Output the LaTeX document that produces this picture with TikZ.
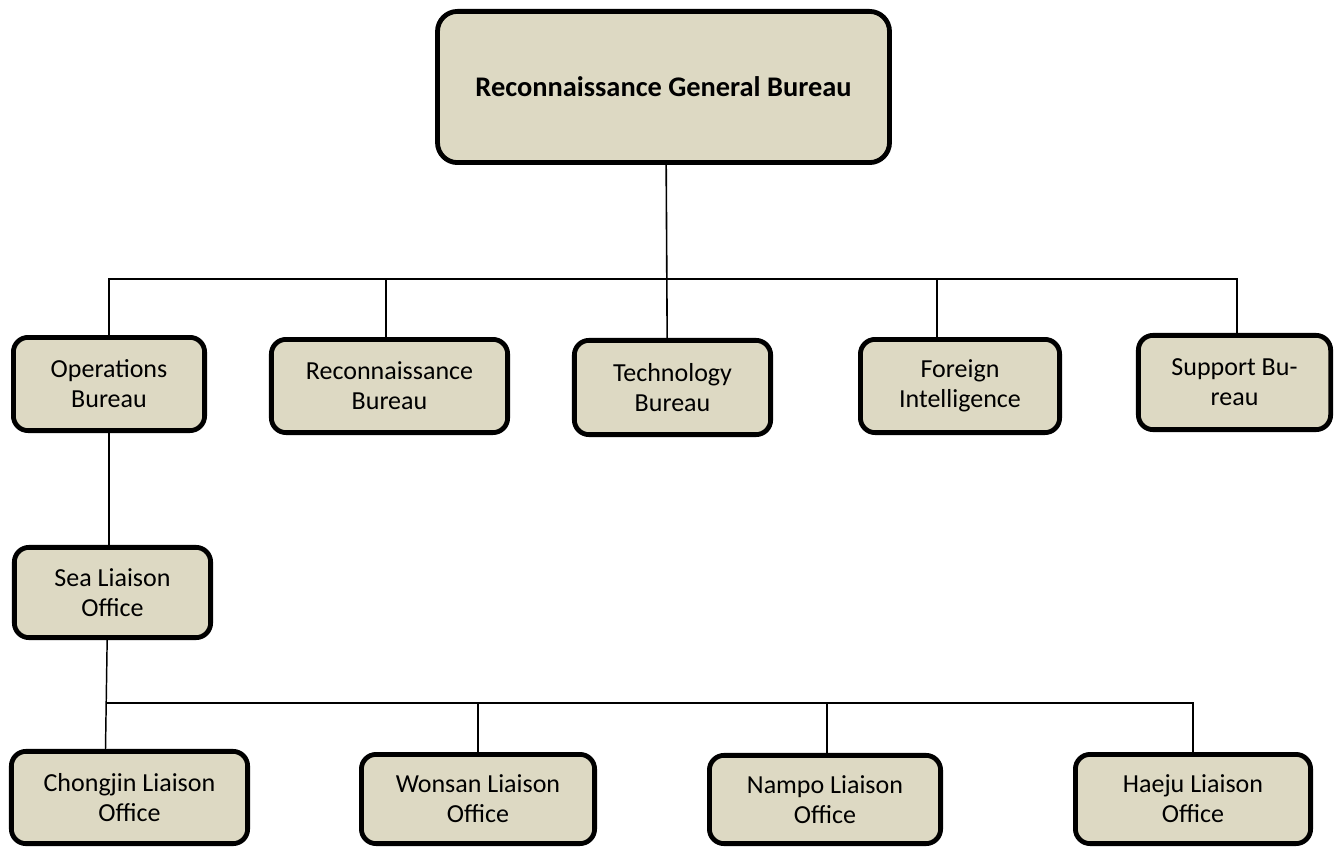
\documentclass[tikz,border=0pt]{standalone}
\usepackage{fontspec}
\setmainfont{Carlito}
\usepackage{tikz}
\definecolor{boxfill}{HTML}{DDD9C3}

\begin{document}
\begin{tikzpicture}[
     x = 0.75pt, y = -0.75pt,
     every node/.style = {
     	rectangle, draw, black, fill = boxfill, line width = 3.6pt,
     	rounded corners = 11pt, align = center, inner sep = 2pt,
     	font = \fontsize{19.5}{22.5}\selectfont},
     every path/.style = {line width = 1.5pt}
     ]
       \useasboundingbox (0,0) rectangle (1344,848);

       \node[minimum width = 339pt, minimum height = 113.4pt, rounded corners = 15pt,
             font = \fontsize{21.3}{24}\selectfont\bfseries] (rgb) at (663.5,87) {Reconnaissance General Bureau}; % top
       \node[minimum width = 143.4pt, minimum height = 69.9pt] (ops) at (109,384) {Operations\\Bureau};
       \node[minimum width = 177.2pt, minimum height = 69.9pt] (recon) at (389.5,386) {Reconnaissance\\Bureau};
       \node[minimum width = 147.2pt, minimum height = 70.7pt] (tech) at (672.5,387.5) {Technology\\Bureau};
       \node[minimum width = 149.4pt, minimum height = 69.9pt] (fi) at (960,386) {Foreign\\Intelligence};
       \node[minimum width = 144.2pt, minimum height = 70.7pt] (supp) at (1234.5,382.5) {Support Bu-\\reau};
       \node[minimum width = 147.2pt, minimum height = 67.7pt] (sea) at (112.5,592.5) {Sea Liaison\\Office};
       \node[minimum width = 177.2pt, minimum height = 69.2pt] (chj) at (129.5,797.5) {Chongjin Liaison\\Office};
       \node[minimum width = 174.9pt, minimum height = 66.9pt] (won) at (478,799) {Wonsan Liaison\\Office};
       \node[minimum width = 173.4pt, minimum height = 66.2pt] (nam) at (825,799.5) {Nampo Liaison\\Office};
       \node[minimum width = 176.4pt, minimum height = 66.9pt] (hae) at (1193,799) {Haeju Liaison\\Office};

       \path (0,279) coordinate (bus1);
       \path (0,703) coordinate (bus2);

       \draw[line width = 1.2pt] ([xshift=2pt]rgb.south) -- ([xshift=-4pt]tech.north);
       \draw (ops.north) |- ([xshift=1.5pt]supp.north |- bus1) -- ([xshift=1.5pt]supp.north);
       \draw ([xshift=-2.6pt]recon.north) -- ([xshift=-2.6pt]recon.north |- bus1);
       \draw ([xshift=-17pt]fi.north) -- ([xshift=-17pt]fi.north |- bus1);
       \draw (ops.south) -- (ops.south |- sea.north);
       \begin{scope}[every path/.style = {line width = 1.1pt}]
       \draw ([xshift=-4pt]sea.south) -- ([xshift=-18pt]chj.north);
       \draw ([xshift=-4.5pt]sea.south |- bus2) -- (hae.north |- bus2) -- (hae.north);
       \draw (won.north) -- (won.north |- bus2);
       \draw ([xshift=1.5pt]nam.north) -- ([xshift=1.5pt]nam.north |- bus2);
       \end{scope}

      \end{tikzpicture}
\end{document}
